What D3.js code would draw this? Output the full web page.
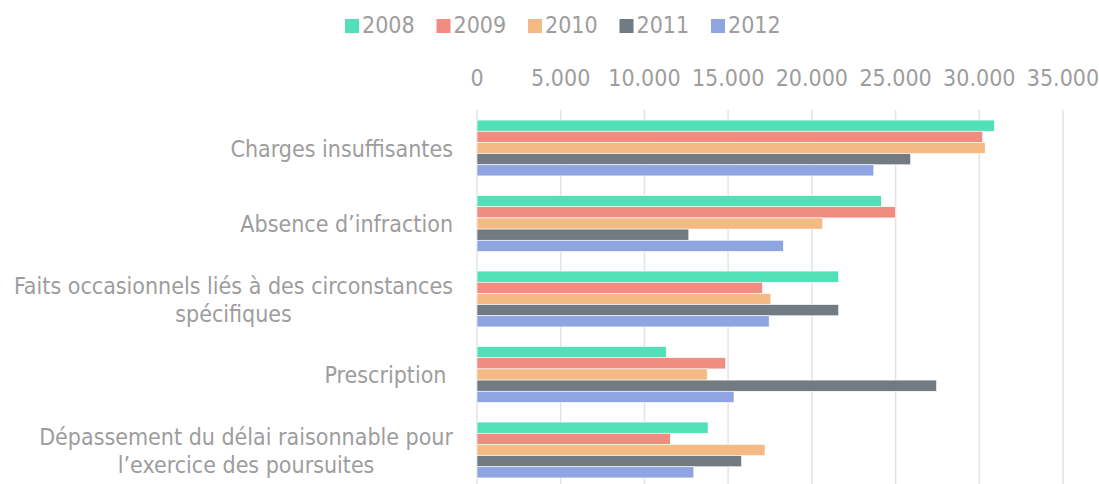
<!DOCTYPE html>
<html>
<head>
<meta charset="utf-8">
<script src="https://cdn.jsdelivr.net/npm/d3@7"></script>
<style>
  body { margin: 0; background: #fff; }
  svg { display: block; font-family: "DejaVu Sans Condensed", "DejaVu Sans", sans-serif; font-stretch: condensed; }
</style>
</head>
<body>
<div id="chart"></div>
<script>
// Data
const categories = [
    ["Charges insuffisantes"],
    ["Absence d\u2019infraction"],
    ["Faits occasionnels li\u00e9s \u00e0 des circonstances", "sp\u00e9cifiques"],
    ["Prescription\u00a0"],
    ["D\u00e9passement du d\u00e9lai raisonnable pour", "l\u2019exercice des poursuites"]
];
const years = ["2008", "2009", "2010", "2011", "2012"];
const v2008 = [30900, 24150, 21600, 11300, 13800];
const v2009 = [30200, 25000, 17050, 14850, 11550];
const v2010 = [30350, 20650, 17550, 13750, 17200];
const v2011 = [25900, 12650, 21600, 27450, 15800];
const v2012 = [23700, 18300, 17450, 15350, 12950];
const series = [v2008, v2009, v2010, v2011, v2012];
const xTicks = [0, 5000, 10000, 15000, 20000, 25000, 30000, 35000];
const colors = ["#52e0b9", "#f08c80", "#f5b984", "#727a82", "#8fa5e2"];

const width = 1099, height = 484;
const textColor = "#9d9d9d";
const fontSize = '23px';

const svg = d3.select('#chart')
    .append('svg')
    .attr('width', width)
    .attr('height', height);

const x = d3.scaleLinear().domain([0, 35000]).range([477, 1063]);
const y = d3.scaleBand()
    .domain(d3.range(categories.length))
    .range([110.25, 487.75])
    .paddingInner(0.26)
    .paddingOuter(0.13);
const yInner = d3.scaleBand().domain(years).range([0, y.bandwidth()]);

const fmt = d3.formatLocale({ decimal: ",", thousands: ".", grouping: [3], currency: ["", " €"] }).format(",d");

// Grid lines
svg.append('g')
    .selectAll('line')
    .data(xTicks)
    .join('line')
    .attr('x1', d => x(d))
    .attr('x2', d => x(d))
    .attr('y1', 110)
    .attr('y2', height)
    .style('stroke', '#e3e3e3')
    .style('stroke-width', 1.5);

// Top axis labels
svg.append('g')
    .selectAll('text')
    .data(xTicks)
    .join('text')
    .attr('x', d => x(d))
    .attr('y', 86)
    .attr('text-anchor', 'middle')
    .style('font-size', fontSize)
    .style('fill', textColor)
    .text(d => fmt(d));

// Bars
const groups = svg.append('g')
    .selectAll('g')
    .data(categories.map((c, i) => i))
    .join('g')
    .attr('transform', i => `translate(0,${y(i)})`);

groups.selectAll('rect')
    .data(i => years.map((yr, k) => ({ yr, k, v: series[k][i] })))
    .join('rect')
    .attr('x', x(0))
    .attr('y', d => yInner(d.yr))
    .attr('width', d => x(d.v) - x(0))
    .attr('height', yInner.bandwidth())
    .style('fill', d => colors[d.k])
    .style('stroke', '#fff')
    .style('stroke-width', 0.6);

// Category labels
const labels = svg.append('g')
    .selectAll('g')
    .data(categories)
    .join('g');

labels.each(function (lines, i) {
    const g = d3.select(this);
    const lh = 28;
    const cy = y(i) + y.bandwidth() / 2;
    const t = g.append('text')
        .style('font-size', fontSize)
        .style('fill', textColor)
        .attr('text-anchor', 'middle');
    lines.forEach((ln, j) => {
        t.append('tspan')
            .attr('y', cy + (j - (lines.length - 1) / 2) * lh + 8.5)
            .text(ln);
    });
    // right-align the block at x=453, center lines within it
    const w = d3.max(t.selectAll('tspan').nodes(), n => n.getComputedTextLength());
    t.selectAll('tspan').attr('x', 453 - w / 2);
});

// Legend
const legend = svg.append('g')
    .selectAll('g')
    .data(years)
    .join('g')
    .attr('transform', (d, i) => `translate(${345 + i * 91.5},19)`);

legend.append('rect')
    .attr('width', 14)
    .attr('height', 14)
    .style('fill', (d, i) => colors[i]);

legend.append('text')
    .attr('x', 17)
    .attr('y', 14)
    .style('font-size', fontSize)
    .style('fill', textColor)
    .text(d => d);
</script>
</body>
</html>
